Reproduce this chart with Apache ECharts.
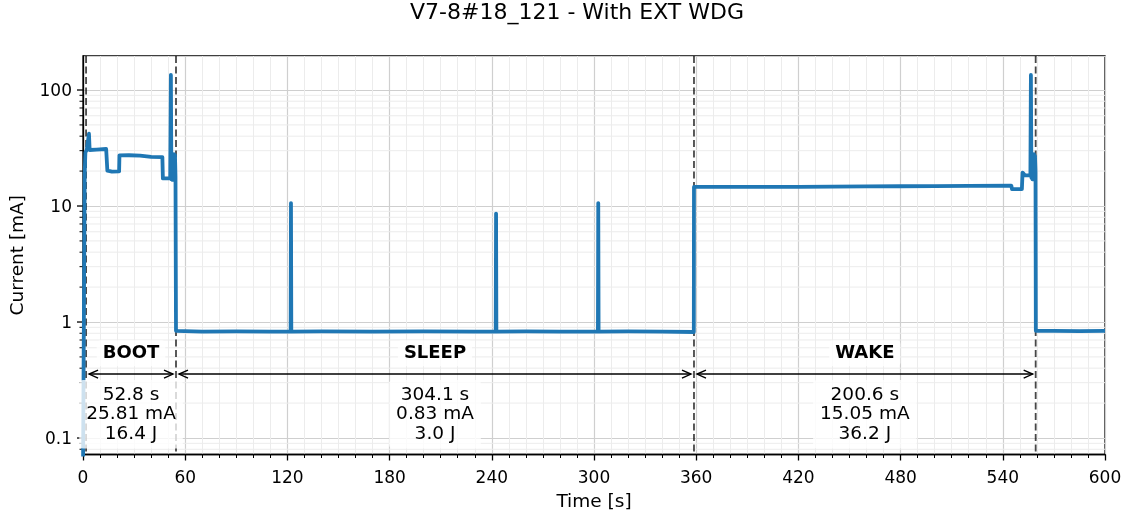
<!DOCTYPE html>
<html>
<head>
<meta charset="utf-8">
<title>V7-8#18_121 - With EXT WDG</title>
<script src="https://cdn.jsdelivr.net/npm/echarts@6/dist/echarts.min.js"></script>
<style>
  html, body { margin: 0; padding: 0; background: #fff; }
  #chart { width: 1128px; height: 514px; }
</style>
</head>
<body>
<div id="chart"></div>
<script>
// Current trace, [time s, current mA]
const bootTrace = [
  [0.0, 0.05], [0.9, 0.05], [1.0, 19], [1.4, 29], [2.2, 30.4], [3.1, 30.6],
  [3.5, 42], [3.9, 30.4], [8.0, 30.6], [8.5, 31], [13.6, 31], [14.0, 31.5],
  [14.3, 20.2], [17.0, 19.8], [21.2, 19.9], [21.4, 27.3], [27.0, 27.4],
  [33.5, 27.2], [33.8, 26.5], [40.0, 26.5], [46.6, 26.4], [46.9, 17.3],
  [51.2, 17.3], [51.6, 135], [51.9, 17.0], [52.2, 28.0], [52.5, 16.8],
  [52.8, 28.0], [53.1, 16.8], [53.4, 28.0], [53.7, 16.8], [54.0, 27.5],
  [54.3, 18.0], [54.6, 0.84]
];
const sleepTrace = [
  [55.0, 0.83], [70, 0.825], [90, 0.83], [110, 0.825], [121.9, 0.825],
  [122.1, 10.6], [122.3, 0.825], [140, 0.83], [170, 0.825], [200, 0.83],
  [230, 0.825], [242.3, 0.825], [242.5, 8.6], [242.7, 0.825], [260, 0.83],
  [280, 0.825], [302.3, 0.825], [302.5, 10.6], [302.7, 0.825], [320, 0.83],
  [340, 0.825], [358.6, 0.82]
];
const wakeTrace = [
  [358.7, 14.6], [380, 14.6], [420, 14.6], [440, 14.7], [460, 14.75],
  [480, 14.8], [500, 14.85], [520, 14.9], [545.0, 15.0], [545.4, 14.0],
  [551.2, 14.0], [551.6, 19.4], [552.6, 19.4], [553.0, 18.4], [556.2, 18.4],
  [556.5, 135], [556.8, 17.5], [557.1, 28], [557.4, 17.0], [557.7, 28],
  [558.0, 17.0], [558.3, 28], [558.6, 17.0], [558.9, 27], [559.2, 20]
];
const tailTrace = [
  [559.4, 0.84], [570, 0.84], [585, 0.835], [600, 0.84]
];

// Phase summary
const phaseNames = ['BOOT', 'SLEEP', 'WAKE'];
const phaseDurations = [52.8, 304.1, 200.6];
const phaseCurrents = ['25.81', '0.83', '15.05'];
const phaseEnergies = ['16.4', '3.0', '36.2'];
const bootStart = 1.8;

// Axes
const xMin = 0, xMax = 600, xTickStep = 60;
const yMin = 0.0721, yMax = 196.4;
const yTickValues = [0.1, 1, 10, 100];

const FONT = '"DejaVu Sans", "Liberation Sans", sans-serif';

// phase boundaries from the durations
const boundaries = [bootStart];
phaseDurations.forEach(function (d, i) {
  boundaries.push(+(boundaries[i] + d).toFixed(1));
});
const phaseSpans = phaseNames.map(function (n, i) { return [boundaries[i], boundaries[i + 1]]; });

// minor log ticks (2..9 per decade)
const yMinorValues = [];
for (let e = -2; e <= 2; e++) {
  for (let k = 2; k <= 9; k++) {
    const v = +(k * Math.pow(10, e)).toPrecision(3);
    if (v > yMin && v < yMax) yMinorValues.push(v);
  }
}

const trace = bootTrace.concat(sleepTrace, wakeTrace, tailTrace);

// annotation heights (data units on the current axis)
const LABEL_Y = 0.537, ARROW_Y = 0.356, STATS_Y = 0.16;

function isDecade(v) {
  const l = Math.log10(v);
  return Math.abs(l - Math.round(l)) < 1e-6;
}

const chart = echarts.init(document.getElementById('chart'), null, { renderer: 'canvas' });

chart.setOption({
  animation: false,
  backgroundColor: '#fff',
  graphic: [{
    type: 'text',
    x: 577, y: 13,
    style: {
      text: 'V7-8#18_121 - With EXT WDG',
      font: '22px ' + FONT,
      fill: '#000',
      align: 'center',
      verticalAlign: 'middle'
    }
  }],
  grid: {
    left: 83, right: 23, top: 56, bottom: 59.5,
    show: true, borderColor: '#000', borderWidth: 1.3,
    containLabel: false, outerBoundsMode: 'none'
  },
  xAxis: {
    type: 'value',
    min: xMin, max: xMax, interval: xTickStep,
    name: 'Time [s]', nameLocation: 'middle', nameGap: 35,
    nameTextStyle: { fontFamily: FONT, fontSize: 18.5, color: '#000' },
    axisLine: { show: true, lineStyle: { color: '#000', width: 1.3 } },
    axisTick: { show: true, length: 6, lineStyle: { color: '#000', width: 1.3 } },
    minorTick: { show: true, splitNumber: 6, length: 3.5, lineStyle: { color: '#000', width: 1 } },
    axisLabel: { fontFamily: FONT, fontSize: 17, color: '#000', margin: 16 },
    splitLine: { show: true, lineStyle: { color: '#cfcfcf', width: 1.2 } },
    minorSplitLine: { show: true, lineStyle: { color: '#ececec', width: 1 } }
  },
  yAxis: {
    type: 'log', logBase: 10,
    min: yMin, max: yMax,
    name: 'Current [mA]', nameLocation: 'middle', nameGap: 55,
    nameTextStyle: { fontFamily: FONT, fontSize: 18.5, color: '#000' },
    axisLine: { show: true, lineStyle: { color: '#000', width: 1.3 } },
    axisTick: { show: false },
    axisLabel: {
      color: '#000', margin: 11,
      showMinLabel: true, showMaxLabel: true,
      formatter: function (v) { return isDecade(v) ? '{t|' + String(+v.toPrecision(6)) + '}' : ''; },
      rich: {
        t: { fontFamily: FONT, fontSize: 17, color: '#000', padding: [4, 0, 0, 0] }
      }
    },
    splitLine: { show: true, lineStyle: { color: '#cfcfcf', width: 1.2 } }
  },
  series: [
    {
      // minor horizontal grid and ticks of the log axis
      type: 'custom',
      z: 0, silent: true, clip: false,
      data: yMinorValues.map(function (v) { return [xMin, v, 0]; })
        .concat(yTickValues.map(function (v) { return [xMin, v, 1]; })),
      renderItem: function (params, api) {
        const cs = params.coordSys;
        const y = api.coord([xMin, api.value(1)])[1];
        const major = api.value(2) === 1;
        const children = [{
          type: 'line',
          shape: { x1: cs.x - (major ? 6 : 3.5), y1: y, x2: cs.x, y2: y },
          style: { stroke: '#000', lineWidth: major ? 1.3 : 1 }
        }];
        if (!major) {
          children.push({
            type: 'line',
            shape: { x1: cs.x, y1: y, x2: cs.x + cs.width, y2: y },
            style: { stroke: '#ececec', lineWidth: 1 }
          });
        }
        return { type: 'group', children: children };
      }
    },
    {
      // phase boundaries
      type: 'custom',
      z: 1, silent: true,
      data: boundaries.map(function (t) { return [t, 1]; }),
      renderItem: function (params, api) {
        const cs = params.coordSys;
        const x = api.coord([api.value(0), 1])[0];
        return {
          type: 'line',
          shape: { x1: x, y1: cs.y, x2: x, y2: cs.y + cs.height },
          style: { stroke: 'rgba(0,0,0,0.72)', lineWidth: 1.8, lineDash: [7, 3.5] }
        };
      }
    },
    {
      type: 'line',
      z: 2,
      data: trace,
      showSymbol: false,
      symbol: 'none',
      sampling: null,
      clip: true,
      lineStyle: { color: '#1f77b4', width: 3.8, join: 'round', cap: 'butt' }
    },
    {
      // phase arrows and summaries
      type: 'custom',
      z: 3, silent: true, clip: false,
      data: phaseSpans,
      renderItem: function (params, api) {
        const i = params.dataIndex;
        const a = api.coord([api.value(0), ARROW_Y]);
        const b = api.coord([api.value(1), ARROW_Y]);
        const xa = a[0] + 3, xb = b[0] - 3, y = a[1];
        const mid = (a[0] + b[0]) / 2;
        const yLabel = api.coord([api.value(0), LABEL_Y])[1];
        const yStats = api.coord([api.value(0), STATS_Y])[1];
        const hl = 9, hw = 4;
        const stroke = { stroke: '#000', lineWidth: 1.4 };
        return {
          type: 'group',
          children: [
            { type: 'line', shape: { x1: xa, y1: y, x2: xb, y2: y }, style: stroke },
            { type: 'polyline', shape: { points: [[xa + hl, y - hw], [xa, y], [xa + hl, y + hw]] }, style: Object.assign({ fill: null }, stroke) },
            { type: 'polyline', shape: { points: [[xb - hl, y - hw], [xb, y], [xb - hl, y + hw]] }, style: Object.assign({ fill: null }, stroke) },
            {
              type: 'text', x: mid, y: yLabel,
              style: {
                text: phaseNames[i],
                font: 'bold 18px ' + FONT, fill: '#000',
                align: 'center', verticalAlign: 'middle',
                backgroundColor: 'rgba(255,255,255,0.8)', padding: [4, 6], borderRadius: 4
              }
            },
            {
              type: 'text', x: mid, y: yStats,
              style: {
                text: phaseDurations[i].toFixed(1) + ' s\n' + phaseCurrents[i] + ' mA\n' + phaseEnergies[i] + ' J',
                font: '18.5px ' + FONT, fill: '#000', lineHeight: 19.5,
                align: 'center', verticalAlign: 'middle',
                backgroundColor: 'rgba(255,255,255,0.78)', padding: [5, 7], borderRadius: 4
              }
            }
          ]
        };
      }
    }
  ]
});
</script>
</body>
</html>
